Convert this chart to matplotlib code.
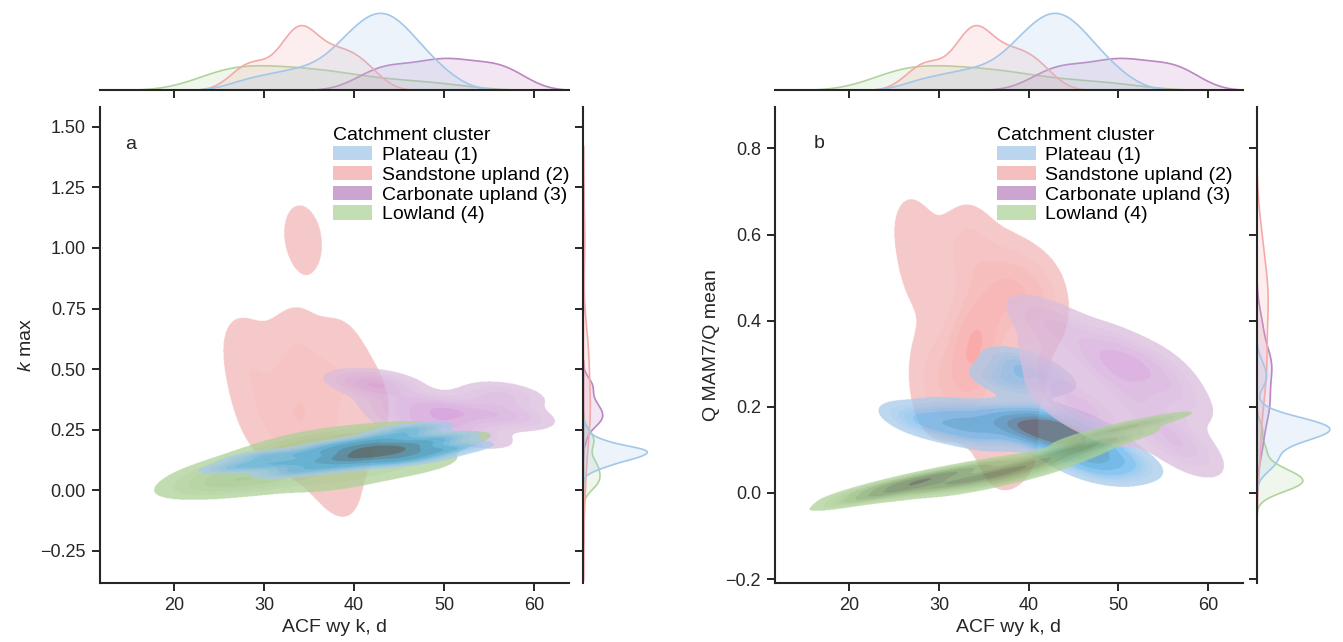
import numpy as np
import pandas as pd
import matplotlib
matplotlib.use("Agg")
import matplotlib.pyplot as plt
from matplotlib.patches import Patch
from matplotlib.colors import ListedColormap, to_rgb
import seaborn as sns
from seaborn.external import husl

# Cluster names and colours
clusters = ["Plateau (1)", "Sandstone upland (2)", "Carbonate upland (3)", "Lowland (4)"]
colors = ["#a3c7e8", "#f4aaaa", "#bb86c1", "#b0d49b"]

# Catchment values: ACF wy k (d), k max, Q MAM7/Q mean
plateau_acf = [27.5, 30.0, 32.0, 33.5, 35.0, 36.5, 37.5, 38.5, 39.0, 39.5, 40.0, 40.5, 41.0, 41.5, 42.0,
               42.5, 42.5, 43.0, 43.5, 43.5, 44.0, 44.5, 45.0, 45.5, 46.0, 46.5, 47.0, 48.0, 49.0, 50.5]
plateau_kmax = [0.10, 0.14, 0.11, 0.08, 0.15, 0.12, 0.18, 0.10, 0.14, 0.17, 0.13, 0.16, 0.20, 0.14, 0.17,
                0.15, 0.18, 0.16, 0.12, 0.19, 0.16, 0.22, 0.14, 0.17, 0.25, 0.13, 0.19, 0.16, 0.21, 0.17]
plateau_q = [0.17, 0.16, 0.18, 0.14, 0.15, 0.17, 0.26, 0.16, 0.30, 0.15, 0.14, 0.16, 0.27, 0.15, 0.13,
             0.16, 0.14, 0.15, 0.13, 0.16, 0.14, 0.11, 0.15, 0.09, 0.13, 0.07, 0.12, 0.06, 0.09, 0.07]

sandstone_acf = [27.0, 28.0, 29.0, 29.5, 32.0, 32.5, 33.0, 33.5, 34.0, 34.0, 34.5,
                 34.5, 35.0, 36.5, 37.0, 37.5, 39.0, 39.0, 40.0, 41.0, 42.0]
sandstone_kmax = [0.60, 0.40, 0.55, 0.25, 0.30, 0.58, 0.20, 0.35, 1.01, 0.62, 1.07,
                  0.28, 0.42, 0.05, 0.30, 0.52, 0.60, -0.02, 0.18, 0.40, 0.35]
sandstone_q = [0.62, 0.50, 0.30, 0.20, 0.25, 0.56, 0.35, 0.30, 0.22, 0.58, 0.34,
               0.38, 0.42, 0.08, 0.45, 0.50, 0.48, 0.12, 0.28, 0.45, 0.44]

carbonate_acf = [41.0, 42.5, 43.5, 44.5, 46.0, 47.5, 48.5, 49.5, 50.5, 51.0, 52.5, 53.5, 55.0, 56.0, 57.0, 58.0]
carbonate_kmax = [0.44, 0.42, 0.45, 0.34, 0.28, 0.36, 0.27, 0.31, 0.34, 0.28, 0.32, 0.22, 0.37, 0.30, 0.40, 0.31]
carbonate_q = [0.40, 0.30, 0.22, 0.38, 0.20, 0.30, 0.17, 0.31, 0.33, 0.24, 0.28, 0.18, 0.29, 0.12, 0.22, 0.10]

lowland_acf = [24.0, 25.0, 26.0, 27.0, 28.5, 30.0, 31.0, 32.5, 34.0, 35.5, 37.0, 38.5, 40.5, 43.5, 46.5, 50.5]
lowland_kmax = [0.03, 0.07, 0.02, 0.10, 0.05, 0.13, 0.03, 0.17, 0.08, 0.21, 0.11, 0.04, 0.22, 0.23, 0.10, 0.20]
lowland_q = [0.00, 0.02, 0.01, 0.03, 0.02, 0.04, 0.02, 0.05, 0.03, 0.04, 0.03, 0.06, 0.06, 0.09, 0.11, 0.15]

acf_all = [plateau_acf, sandstone_acf, carbonate_acf, lowland_acf]
kmax_all = [plateau_kmax, sandstone_kmax, carbonate_kmax, lowland_kmax]
q_all = [plateau_q, sandstone_q, carbonate_q, lowland_q]

frames = []
for name, a, k, q in zip(clusters, acf_all, kmax_all, q_all):
    frames.append(pd.DataFrame({"cluster": name, "acf": a, "kmax": k, "q": q}))
df = pd.concat(frames, ignore_index=True)
palette = dict(zip(clusters, colors))

# Fonts and style
plt.rcParams["font.family"] = ["Liberation Sans", "DejaVu Sans"]
plt.rcParams["mathtext.fontset"] = "custom"
plt.rcParams["mathtext.rm"] = "Liberation Sans"
plt.rcParams["mathtext.it"] = "Liberation Sans:italic"
dark = "#262626"
fs_tick = 13
fs = 14
joint_alpha = 0.75
bw_adjust = 0.8


def cmap_from_color(color):
    # light-to-dark ramp like seaborn's filled bivariate kde, a bit more saturated
    r, g, b = to_rgb(color)
    h, s, _ = husl.rgb_to_husl(r, g, b)
    s = min(100.0, s * 1.4)
    xx = np.linspace(-1, 1, int(1.15 * 256))[:256]
    ramp = np.zeros((256, 3))
    ramp[:, 0] = h
    ramp[:, 1] = s * np.cos(xx)
    ramp[:, 2] = np.linspace(35, 80, 256)
    cols = np.clip([husl.husl_to_rgb(*hsl) for hsl in ramp], 0, 1)
    return ListedColormap(cols[::-1])


def scott_cov(x, y):
    n = len(x)
    return np.cov(np.vstack([x, y])) * n ** (-2 / 6) * bw_adjust ** 2


def kde2d(x, y, gx, gy):
    # gaussian kde with Scott's bandwidth
    x = np.asarray(x, float)
    y = np.asarray(y, float)
    cov = scott_cov(x, y)
    inv = np.linalg.inv(cov)
    X, Y = np.meshgrid(np.asarray(gx, float), np.asarray(gy, float))
    dens = np.zeros(X.shape)
    for xi, yi in zip(x, y):
        dx = X - xi
        dy = Y - yi
        dens += np.exp(-0.5 * (inv[0, 0] * dx * dx + 2 * inv[0, 1] * dx * dy + inv[1, 1] * dy * dy))
    return dens / (len(x) * 2 * np.pi * np.sqrt(np.linalg.det(cov)))


def joint_kde(ax, ycol, xlim, ylim, order):
    ntot = len(df)
    support_vals = []
    groups = {}
    for name in clusters:
        sub = df[df.cluster == name]
        x, y = sub.acf.values.astype(float), sub[ycol].values.astype(float)
        w = len(sub) / ntot
        # density on its own support grid (used for the common iso-proportion levels)
        bw = np.sqrt(np.diag(scott_cov(x, y)))
        gx = np.linspace(x.min() - 3 * bw[0], x.max() + 3 * bw[0], 200)
        gy = np.linspace(y.min() - 3 * bw[1], y.max() + 3 * bw[1], 200)
        d = kde2d(x, y, gx, gy)
        support_vals.append(np.ravel(d * w))
        groups[name] = (x, y, w)
    vals = np.concatenate(support_vals)
    srt = np.sort(vals)[::-1]
    cum = np.cumsum(srt) / vals.sum()
    iso = np.linspace(0.05, 1, 10)
    levels = np.sort(np.take(srt, np.searchsorted(cum, 1 - iso), mode="clip"))
    layers = 0.5 * (levels[:-1] + levels[1:])

    gx = np.linspace(xlim[0], xlim[1], 1000)
    gy = np.linspace(ylim[0], ylim[1], 1000)
    for name in order:
        x, y, w = groups[name]
        d = kde2d(x, y, gx, gy) * w
        cmap = cmap_from_color(palette[name])
        band = np.clip(np.digitize(d, levels) - 1, 0, len(layers) - 1)
        t = (layers[band] - layers[0]) / (layers[-1] - layers[0])
        rgba = cmap(t)
        rgba[..., 3] = np.where(d >= levels[0], joint_alpha, 0.0)
        rgba[d < levels[0], :3] = cmap(0.0)[:3]
        ax.imshow(rgba, extent=(xlim[0], xlim[1], ylim[0], ylim[1]), origin="lower",
                  aspect="auto", interpolation="antialiased")


W, H = 1343, 642
fig = plt.figure(figsize=(W / 100, H / 100), dpi=100)


def px_axes(left, top, right, bottom):
    return fig.add_axes([left / W, 1 - bottom / H, (right - left) / W, (bottom - top) / H])


panels = [
    dict(col="kmax", ylabel=r"$k$ max", ylim=(-0.382, 1.581), yticks=np.arange(-0.25, 1.51, 0.25),
         fmt="{:.2f}", letter="a", main=(99.6, 107, 569, 583), top=(99.6, 9, 569, 90),
         right=(583, 107, 650, 583), leg=(0.498, 0.958), let_pos=(0.066, 0.921),
         order=[clusters[1], clusters[2], clusters[3], clusters[0]]),
    dict(col="q", ylabel="Q MAM7/Q mean", ylim=(-0.209, 0.896), yticks=np.arange(-0.2, 0.81, 0.2),
         fmt="{:.1f}", letter="b", main=(775, 107, 1243, 583), top=(775, 9, 1243, 90),
         right=(1256.5, 107, 1333, 583), leg=(0.474, 0.958), let_pos=(0.094, 0.924),
         order=[clusters[1], clusters[0], clusters[2], clusters[3]]),
]

xlim = (11.7, 63.9)
xticks = [20, 30, 40, 50, 60]

for p in panels:
    ax = px_axes(*p["main"])
    ax_top = px_axes(*p["top"])
    ax_right = px_axes(*p["right"])

    # joint density
    joint_kde(ax, p["col"], xlim, p["ylim"], p["order"])
    # marginal densities
    sns.kdeplot(data=df, x="acf", hue="cluster", hue_order=clusters, palette=palette,
                fill=True, alpha=0.2, linewidth=1.2, bw_adjust=bw_adjust, legend=False, ax=ax_top)
    sns.kdeplot(data=df, y=p["col"], hue="cluster", hue_order=clusters, palette=palette,
                fill=True, alpha=0.2, linewidth=1.2, bw_adjust=bw_adjust, legend=False, ax=ax_right)

    ax.set_xlim(*xlim)
    ax.set_ylim(*p["ylim"])
    ax.set_xticks(xticks)
    ax.set_yticks(p["yticks"])
    ax.set_yticklabels([p["fmt"].format(v).replace("-", "\u2212") for v in p["yticks"]])
    ax.set_xlabel("ACF wy k, d", fontsize=fs, color=dark)
    ax.set_ylabel(p["ylabel"], fontsize=fs, color=dark)

    ax_top.set_xlim(*xlim)
    ax_top.set_xticks(xticks)
    ax_top.set_ylim(bottom=0)
    ax_top.set_yticks([])
    ax_top.set_xticklabels([])
    ax_top.set_xlabel("")
    ax_top.set_ylabel("")

    ax_right.set_ylim(*p["ylim"])
    ax_right.set_yticks(p["yticks"])
    ax_right.set_xlim(left=0)
    ax_right.set_xticks([])
    ax_right.set_yticklabels([])
    ax_right.set_xlabel("")
    ax_right.set_ylabel("")

    for a in (ax, ax_top, ax_right):
        a.set_facecolor("none")
        for s in a.spines.values():
            s.set_visible(False)
        a.tick_params(direction="out", length=6, width=1.4, colors=dark, labelsize=fs_tick, pad=4)
    for a, side in ((ax, "left"), (ax, "bottom"), (ax_top, "bottom"), (ax_right, "left")):
        a.spines[side].set_visible(True)
        a.spines[side].set_linewidth(1.5)
        a.spines[side].set_color(dark)

    handles = [Patch(facecolor=c, alpha=joint_alpha, edgecolor="none") for c in colors]
    ax.legend(handles, clusters, title="Catchment cluster", frameon=False, loc="upper left",
              bbox_to_anchor=p["leg"], alignment="left", fontsize=fs, title_fontsize=fs,
              handlelength=2.0, handleheight=0.75, labelspacing=0.1, handletextpad=0.5,
              borderpad=0, borderaxespad=0)
    ax.text(*p["let_pos"], p["letter"], transform=ax.transAxes, ha="center", va="center",
            fontsize=fs, color=dark)

fig.savefig("out.png", dpi=100)
